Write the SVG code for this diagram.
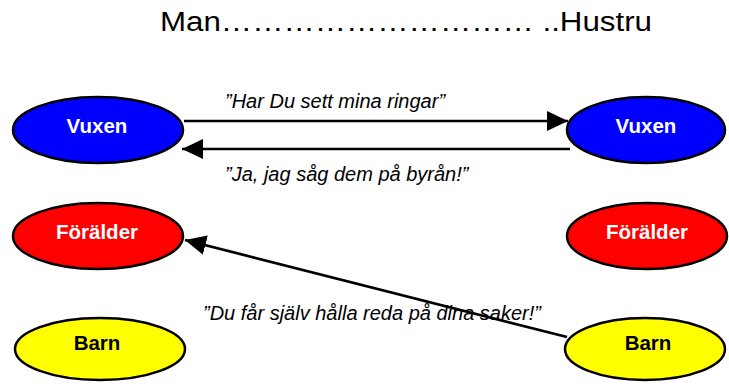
<svg xmlns="http://www.w3.org/2000/svg" width="729" height="384" viewBox="0 0 729 384">
<style>
.node ellipse{stroke:#000;stroke-width:2.5}
.lbl{font-family:"Liberation Sans",Arial,sans-serif;font-weight:bold;font-size:20.5px;text-anchor:middle}
.say{font-family:"Liberation Sans",Arial,sans-serif;font-style:italic;font-size:20px;fill:#000}
.conn line{stroke:#000;stroke-width:2.7}
</style>
<defs>
<marker id="ah" markerUnits="userSpaceOnUse" markerWidth="22" markerHeight="22" viewBox="0 0 22 22" refX="21" refY="11" orient="auto">
<path d="M0,1 L21,11 L0,21 Z" fill="#000"/>
</marker>
</defs>
<rect width="729" height="384" fill="#fff"/>
<text x="160" y="31" font-family="Liberation Sans,Arial,sans-serif" font-size="27" fill="#000" textLength="492" lengthAdjust="spacingAndGlyphs">Man………………………… ..Hustru</text>
<g class="conn">
<line x1="184" y1="121" x2="568" y2="121" marker-end="url(#ah)"/>
<line x1="570" y1="149" x2="182" y2="149" marker-end="url(#ah)"/>
<line x1="567" y1="337" x2="185" y2="240" marker-end="url(#ah)"/>
</g>
<text class="say" x="225" y="108">”Har Du sett mina ringar”</text>
<text class="say" x="225" y="181">”Ja, jag såg dem på byrån!”</text>
<text class="say" x="203" y="320">”Du får själv hålla reda på dina saker!”</text>
<g id="vuxen-man" class="node"><ellipse cx="98" cy="130" rx="85" ry="33" fill="#0000ff"/><text class="lbl" x="97" y="133" fill="#fff">Vuxen</text></g>
<g id="vuxen-hustru" class="node"><ellipse cx="646" cy="130" rx="79" ry="33" fill="#0000ff"/><text class="lbl" x="646" y="133" fill="#fff">Vuxen</text></g>
<g id="foralder-man" class="node"><ellipse cx="98" cy="236" rx="85" ry="33" fill="#ff0000"/><text class="lbl" x="97" y="239" fill="#fff">Förälder</text></g>
<g id="foralder-hustru" class="node"><ellipse cx="647" cy="236" rx="80" ry="33" fill="#ff0000"/><text class="lbl" x="647" y="239" fill="#fff">Förälder</text></g>
<g id="barn-man" class="node"><ellipse cx="100" cy="349" rx="85" ry="31" fill="#ffff00"/><text class="lbl" x="97" y="350" fill="#000">Barn</text></g>
<g id="barn-hustru" class="node"><ellipse cx="645" cy="349" rx="80" ry="31" fill="#ffff00"/><text class="lbl" x="648" y="350" fill="#000">Barn</text></g>
</svg>
